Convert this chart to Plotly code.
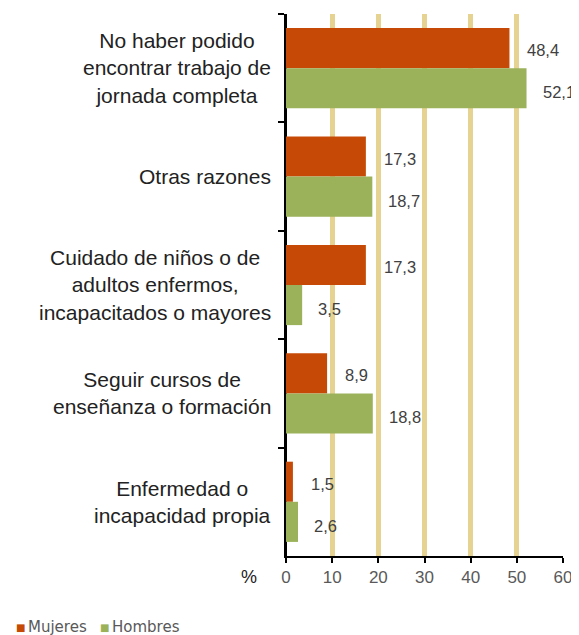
import plotly.graph_objects as go

categories = [
    "No haber podido<br>encontrar trabajo de<br>jornada completa",
    "Otras razones",
    "Cuidado de niños o de<br>adultos enfermos,<br>incapacitados o mayores",
    "Seguir cursos de<br>enseñanza o formación",
    "Enfermedad o<br>incapacidad propia",
]
mujeres = [48.4, 17.3, 17.3, 8.9, 1.5]
hombres = [52.1, 18.7, 3.5, 18.8, 2.6]
mujeres_lbl = ["48,4", "17,3", "17,3", "8,9", "1,5"]
hombres_lbl = ["52,1", "18,7", "3,5", "18,8", "2,6"]
x_ticks = [0, 10, 20, 30, 40, 50, 60]
series_names = ["Mujeres", "Hombres"]

C_MUJ = "#C64A06"
C_HOM = "#9BB25A"
C_GRID = "#E6D392"
FONT = "Liberation Sans"

# page has an 8px body margin; figure sized to fill the rest of the window
OFF = 8
W, H = 579 - OFF, 635 - OFF
ML, MR, MT, MB = 286 - OFF, 16, 14 - OFF, 79
PW, PH = W - ML - MR, H - MT - MB


def px_to_paper(xp, yp):
    return (xp - OFF - ML) / PW, (H - MB - (yp - OFF)) / PH


fig = go.Figure()
fig.add_trace(go.Bar(y=categories, x=mujeres, orientation="h", name=series_names[0],
                     marker=dict(color=C_MUJ, line=dict(width=0)), showlegend=False))
fig.add_trace(go.Bar(y=categories, x=hombres, orientation="h", name=series_names[1],
                     marker=dict(color=C_HOM, line=dict(width=0)), showlegend=False))

ann = []
for cat, v, t in zip(categories, mujeres, mujeres_lbl):
    ann.append(dict(x=v, y=cat, xref="x", yref="y", text=t, showarrow=False,
                    xanchor="left", yanchor="middle", xshift=16, yshift=18,
                    font=dict(size=16.5, color="#404040", family=FONT)))
for cat, v, t in zip(categories, hombres, hombres_lbl):
    ann.append(dict(x=v, y=cat, xref="x", yref="y", text=t, showarrow=False,
                    xanchor="left", yanchor="middle", xshift=14, yshift=-24,
                    font=dict(size=16.5, color="#404040", family=FONT)))
for cat in categories:
    ann.append(dict(x=0, y=cat, xref="paper", yref="y", text=cat, showarrow=False,
                    xanchor="right", yanchor="middle", xshift=-13, align="center",
                    font=dict(size=21, color="#222222", family=FONT)))
ann.append(dict(x=0, y=0, xref="paper", yref="paper", text="%", showarrow=False,
                xanchor="right", yanchor="top", xshift=-27, yshift=-9,
                font=dict(size=18, color="#222222", family=FONT)))

# legend drawn as text entries
leg_x = [14, 98]
for name, col, lx in zip(series_names, [C_MUJ, C_HOM], leg_x):
    sx, sy = px_to_paper(lx, 627)
    tx, _ = px_to_paper(lx + 12, 627)
    ann.append(dict(x=sx, y=sy, xref="paper", yref="paper", text="■", showarrow=False,
                    xanchor="left", yanchor="middle",
                    font=dict(size=10, color=col, family="DejaVu Sans")))
    ann.append(dict(x=tx, y=sy, xref="paper", yref="paper", text=name,
                    showarrow=False, xanchor="left", yanchor="middle",
                    font=dict(size=15, color="#595959", family="DejaVu Sans")))

fig.update_layout(
    width=W, height=H,
    margin=dict(l=ML, r=MR, t=MT, b=MB, autoexpand=False),
    paper_bgcolor="white", plot_bgcolor="white",
    barmode="group", bargap=0.26, bargroupgap=0,
    annotations=ann,
    showlegend=False,
    xaxis=dict(range=[0, 60], tickvals=x_ticks, showgrid=True, gridcolor=C_GRID,
               gridwidth=5, zeroline=True, zerolinecolor="black", zerolinewidth=1.5,
               showline=True, linecolor="black", linewidth=1.5,
               ticks="outside", ticklen=5, tickcolor="black", tickwidth=1.5,
               tickfont=dict(size=17, color="#595959", family=FONT),
               fixedrange=True),
    yaxis=dict(autorange="reversed", showticklabels=False, showline=True,
               linecolor="black", linewidth=1.5, ticks="outside", ticklen=6,
               tickcolor="black", tickwidth=1.5, tickson="boundaries",
               showgrid=False, fixedrange=True),
)

fig.write_html("out.html")
